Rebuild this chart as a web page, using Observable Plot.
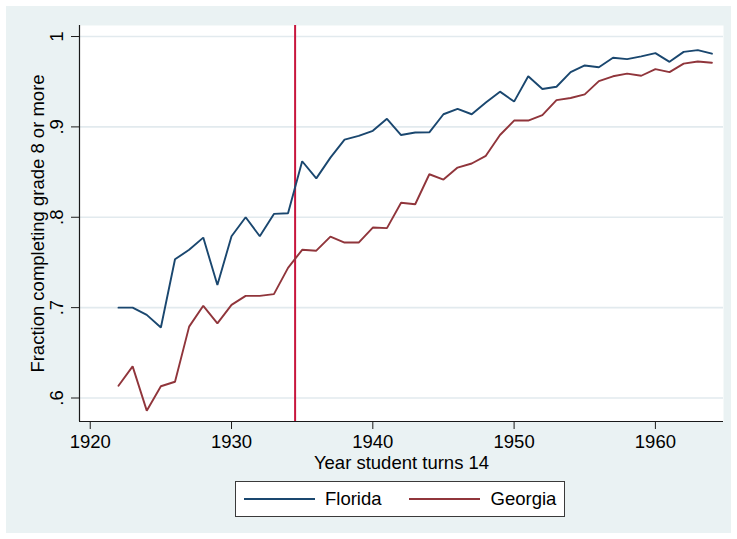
<!DOCTYPE html>
<html>
<head>
<meta charset="utf-8">
<script src="https://cdn.jsdelivr.net/npm/d3@7"></script>
<script src="https://cdn.jsdelivr.net/npm/@observablehq/plot@0.6"></script>
<style>
  html, body { margin: 0; padding: 0; background: #ffffff; }
  body { width: 737px; height: 539px; position: relative; overflow: hidden; font-family: "Liberation Sans", Arial, sans-serif; }
  #wrap { position: absolute; left: 6px; top: 6px; width: 725px; height: 527px; background: #eaf2f3; }
  #chart { position: absolute; left: 0; top: 0; }
  #legend { position: absolute; left: 229px; top: 475px; width: 328px; height: 34px; background: #fff;
            border: 1px solid #3a3a3a; display: flex; align-items: center; font-size: 18.5px; color: #000; box-sizing: content-box; }
  .sw { display: inline-block; height: 0; border-top: 2px solid; }
</style>
</head>
<body>
<div id="wrap">
  <div id="chart"></div>
  <div id="legend"></div>
</div>
<script>
const years = [1922,1923,1924,1925,1926,1927,1928,1929,1930,1931,1932,1933,1934,1935,1936,1937,1938,1939,1940,1941,1942,1943,1944,1945,1946,1947,1948,1949,1950,1951,1952,1953,1954,1955,1956,1957,1958,1959,1960,1961,1962,1963,1964];
const florida = [0.700,0.700,0.692,0.678,0.7535,0.764,0.7775,0.725,0.779,0.800,0.779,0.8037,0.8044,0.862,0.843,0.866,0.886,0.890,0.8957,0.909,0.891,0.8938,0.894,0.914,0.920,0.914,0.927,0.939,0.928,0.956,0.942,0.9444,0.9606,0.968,0.966,0.9765,0.975,0.978,0.9816,0.972,0.983,0.985,0.981];
const georgia = [0.6136,0.635,0.586,0.613,0.618,0.679,0.702,0.6826,0.703,0.713,0.713,0.715,0.744,0.764,0.763,0.7786,0.772,0.772,0.7886,0.788,0.816,0.8144,0.8476,0.8417,0.855,0.8595,0.868,0.891,0.907,0.907,0.913,0.9296,0.932,0.936,0.9506,0.956,0.959,0.9566,0.964,0.9606,0.970,0.9724,0.971];
const seriesNames = ["Florida", "Georgia"];
const seriesColors = ["#1a476f", "#90353b"];
const xTicks = [1920, 1930, 1940, 1950, 1960];
const yTicks = [0.6, 0.7, 0.8, 0.9, 1];
const yTickLabels = [".6", ".7", ".8", ".9", "1"];
const cutoffYear = [1934.5];
const xDomain = [1919.24, 1964.82];
const yDomain = [0.574, 1.0122];
const xTitle = "Year student turns 14";
const yTitle = "Fraction completing grade 8 or more";

const data = [];
years.forEach((yr, i) => {
  data.push({year: yr, value: florida[i], state: seriesNames[0]});
  data.push({year: yr, value: georgia[i], state: seriesNames[1]});
});

const FS = 18.5;
const chart = Plot.plot({
  width: 725,
  height: 480,
  marginLeft: 73,
  marginRight: 8,
  marginTop: 19,
  marginBottom: 65,
  style: {background: "transparent", fontFamily: "'Liberation Sans', Arial, sans-serif", fontSize: FS + "px", color: "#000", overflow: "visible"},
  x: {domain: xDomain},
  y: {domain: yDomain},
  color: {domain: seriesNames, range: seriesColors},
  marks: [
    Plot.frame({fill: "white", stroke: null}),
    Plot.gridY(yTicks, {stroke: "#e2eaee", strokeOpacity: 1, strokeWidth: 1.6}),
    Plot.ruleX(cutoffYear, {stroke: "#c8163d", strokeWidth: 2}),
    Plot.line(data, {x: "year", y: "value", z: "state", stroke: "state", strokeWidth: 1.9, strokeLinejoin: "miter"}),
    Plot.ruleX([xDomain[0]], {stroke: "#1a1a1a", strokeWidth: 1.2}),
    Plot.ruleY([yDomain[0]], {stroke: "#1a1a1a", strokeWidth: 1.2}),
    Plot.axisX(xTicks, {tickSize: 8, tickPadding: 5, tickFormat: d => String(d), label: null, fontSize: FS, stroke: "#1a1a1a"}),
    Plot.axisY(yTicks, {tickSize: 8, tickFormat: () => "", label: null, stroke: "#1a1a1a"}),
    Plot.text(yTicks, {y: d => d, text: (d, i) => yTickLabels[i], frameAnchor: "left", dx: -22, rotate: -90, textAnchor: "middle", lineAnchor: "middle", fontSize: FS}),
    Plot.text([xTitle], {text: d => d, frameAnchor: "bottom", dy: 42, textAnchor: "middle", lineAnchor: "middle", fontSize: FS}),
    Plot.text([yTitle], {text: d => d, frameAnchor: "left", dx: -41, rotate: -90, textAnchor: "middle", lineAnchor: "middle", fontSize: FS})
  ]
});
document.getElementById("chart").appendChild(chart);

const legend = document.getElementById("legend");
const gaps = [[8, 10], [27, 11]];
seriesNames.forEach((name, i) => {
  const sw = document.createElement("span");
  sw.className = "sw";
  sw.style.width = "71px";
  sw.style.borderTopColor = seriesColors[i];
  sw.style.marginLeft = gaps[i][0] + "px";
  sw.style.marginRight = gaps[i][1] + "px";
  const t = document.createElement("span");
  t.textContent = name;
  legend.appendChild(sw);
  legend.appendChild(t);
});
</script>
</body>
</html>
